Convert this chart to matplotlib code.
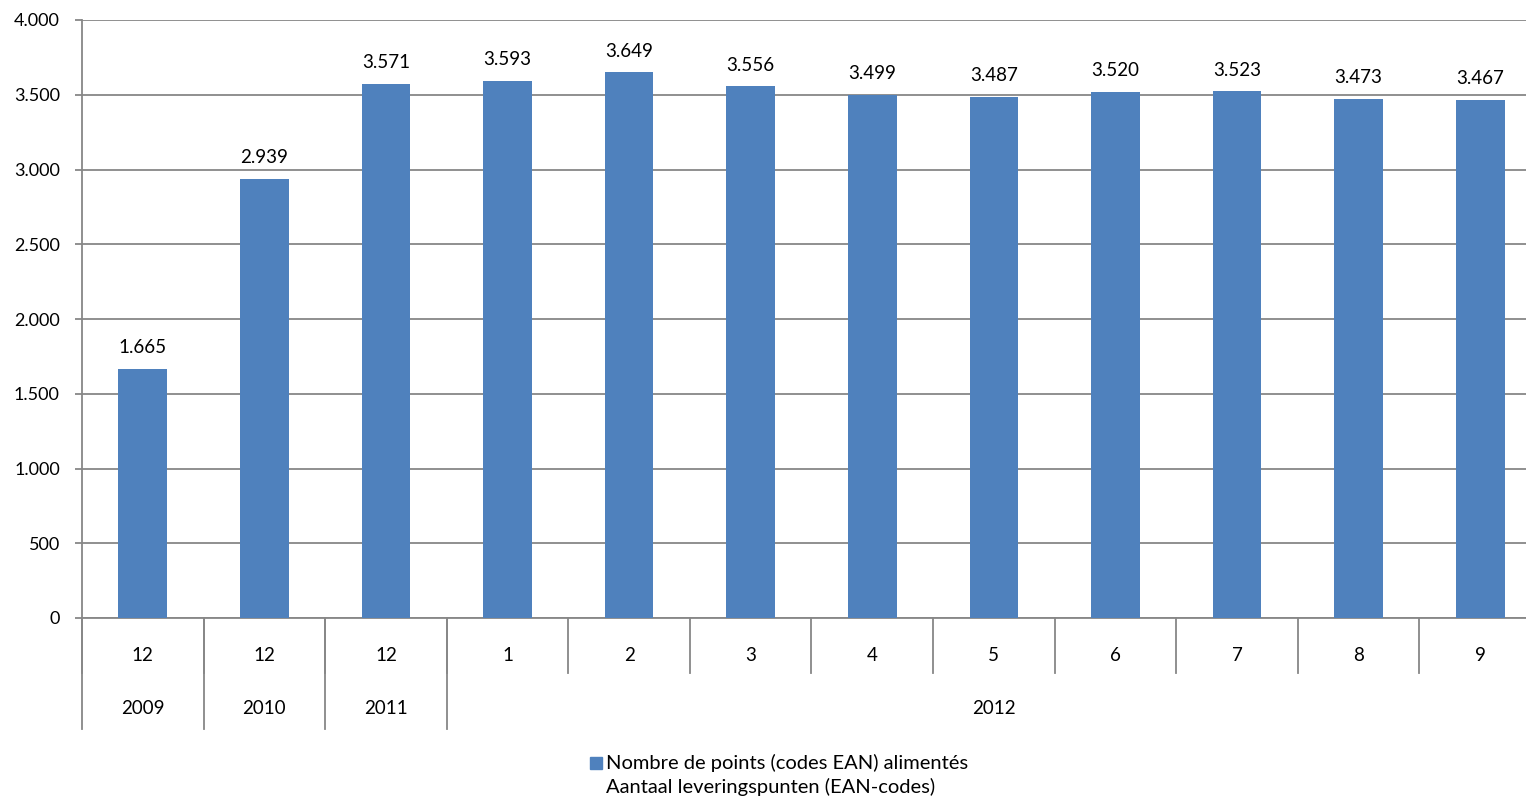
import matplotlib
matplotlib.use("Agg")
import matplotlib.pyplot as plt
from matplotlib.patches import Rectangle

months = ["12", "12", "12", "1", "2", "3", "4", "5", "6", "7", "8", "9"]
years = ["2009", "2010", "2011", "2012"]
year_spans = [(0, 1), (1, 2), (2, 3), (3, 12)]
values = [1665, 2939, 3571, 3593, 3649, 3556, 3499, 3487, 3520, 3523, 3473, 3467]
legend_label = "Nombre de points (codes EAN) alimentés\nAantaal leveringspunten (EAN-codes)"

bar_color = "#4F81BD"
grid_color = "#878787"

plt.rcParams["font.family"] = ["Lato", "DejaVu Sans"]


def dotted(v):
  return f"{int(v):,}".replace(",", ".")


fig = plt.figure(figsize=(15.26, 7.99), dpi=100)
ax = fig.add_axes([82 / 1526, 1 - 618 / 799, (1541 - 82) / 1526, 598 / 799])

x = list(range(len(values)))
ax.bar(x, values, width=0.4, color=bar_color, zorder=3)

for xi, v in zip(x, values):
  ax.text(xi, v + 85, dotted(v), ha="center", va="bottom", fontsize=13.5)

ax.set_xlim(-0.5, len(values) - 0.5)
ax.set_ylim(0, 4000)
ax.set_yticks(range(0, 4001, 500))
ax.set_yticklabels([dotted(t) for t in range(0, 4001, 500)], fontsize=13)
ax.yaxis.grid(True, color=grid_color, linewidth=1.3, zorder=0)
ax.tick_params(axis="y", length=5, width=1.3, color=grid_color, pad=11)
ax.set_xticks([])

for side in ["top", "right"]:
  ax.spines[side].set_visible(False)
for side in ["left", "bottom"]:
  ax.spines[side].set_color(grid_color)
  ax.spines[side].set_linewidth(1.3)

trans = ax.get_xaxis_transform()
# month level: labels and short separators
for xi, m in zip(x, months):
  ax.text(xi, -0.062, m, transform=trans, ha="center", va="center", fontsize=13.5)
  ax.plot([xi - 0.5, xi - 0.5], [0, -0.092], transform=trans, color=grid_color,
          lw=1.3, clip_on=False)
ax.plot([len(values) - 0.5] * 2, [0, -0.092], transform=trans, color=grid_color,
        lw=1.3, clip_on=False)

# year level: labels and long separators
for (a, b), yr in zip(year_spans, years):
  ax.text((a + b) / 2 - 0.5, -0.152, yr, transform=trans, ha="center", va="center",
          fontsize=13.5)
  ax.plot([a - 0.5, a - 0.5], [0, -0.185], transform=trans, color=grid_color,
          lw=1.3, clip_on=False)
ax.plot([len(values) - 0.5] * 2, [0, -0.185], transform=trans, color=grid_color,
        lw=1.3, clip_on=False)

# legend
fig.add_artist(Rectangle((590 / 1526, 1 - 769 / 799), 12 / 1526, 12 / 799,
                         transform=fig.transFigure, color=bar_color))
fig.text(606 / 1526, 1 - 775 / 799, legend_label, ha="left", va="center",
         fontsize=14.5, linespacing=1.45)

fig.savefig("out.png", dpi=100)
